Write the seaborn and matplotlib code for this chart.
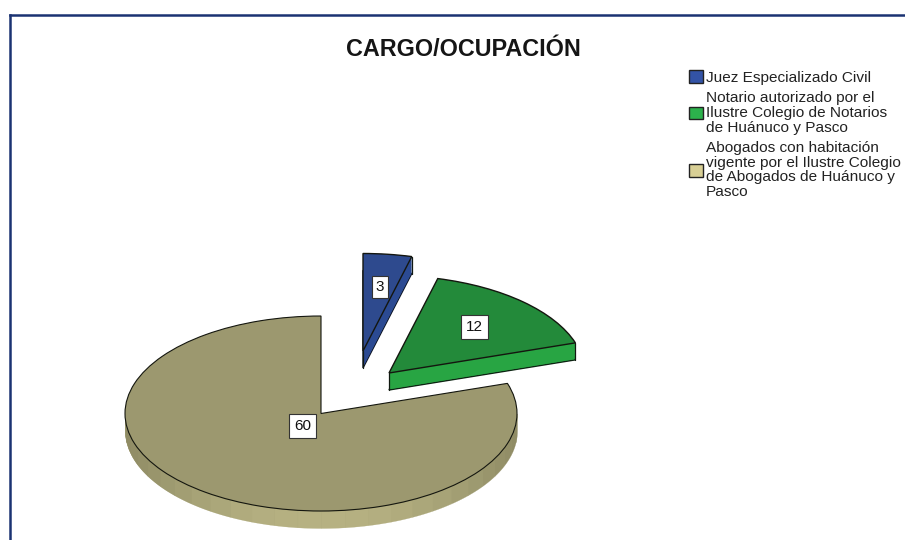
import numpy as np
import matplotlib
matplotlib.use('Agg')
import matplotlib.pyplot as plt
from matplotlib.patches import Patch
import seaborn as sns

cargos = ['Juez Especializado Civil',
          'Notario autorizado por el\nIlustre Colegio de Notarios\nde Huánuco y Pasco',
          'Abogados con habitación\nvigente por el Ilustre Colegio\nde Abogados de Huánuco y\nPasco']
frecuencias = [3, 12, 60]
titulo = 'CARGO/OCUPACIÓN'

top_colors = ['#2E4A8E', '#238A3A', '#9C986F']
side_colors = ['#2B4A92', '#28A543', '#A8A478']
legend_colors = ['#3353A6', '#2CB24C', '#D8CF95']
navy = '#1A3272'

sns.set_theme(style='white')
plt.rcParams['font.family'] = ['Liberation Sans', 'DejaVu Sans']

W, H = 905, 540
CX, CY, RX, RY = 321, 413.5, 196, 97.5   # pie centre and radii, pixels
DEPTH = 17 / RY
FX, FY = 9.5, 14.5                        # frame corner

def px(x, y):
    return (x - CX) / RX, (CY - y) / RY

fig = plt.figure(figsize=(W / 100, H / 100), dpi=100)
ax = fig.add_axes([FX / W, 0, (W - FX) / W, (H - FY) / H])

# how far each slice is pulled out, in pie radii
shifts = [(42 / RX, 62.5 / RY), (68 / RX, 40.5 / RY), (0, 0)]

def layer(dy, colors, edge=None, lw=0):
    wedges, _ = ax.pie(frecuencias, startangle=90, counterclock=False, colors=colors,
                       wedgeprops={'edgecolor': edge if edge else 'none', 'linewidth': lw})
    for w, (sx, sy) in zip(wedges, shifts):
        w.set_center((sx, sy - dy))
    return wedges

# body of the pie, stacked downwards, lowest outline first
bottom = layer(DEPTH, side_colors)
bottom[0].set_edgecolor('#101828')
bottom[0].set_linewidth(1.0)
bottom[1].set_edgecolor('#0c2412')
bottom[1].set_linewidth(1.0)
for dy in np.linspace(DEPTH, 0, 24)[1:-1]:
    layer(dy, side_colors)

# shaded facets on the rim of the big slice
edges = np.linspace(0, -180, 27)
for a, b in zip(edges[:-1], edges[1:]):
    t = np.radians(np.linspace(a, b, 6))
    k = abs(np.cos(np.radians((a + b) / 2)))
    col = sns.blend_palette(['#B6B182', '#8E8B64'], 100)[int(k ** 2 * 99)]
    ax.fill_between(np.cos(t), np.sin(t) - DEPTH, np.sin(t), color=col, lw=0.2, zorder=2)

# vertical corners of the two pulled out slices
ends = np.cumsum(frecuencias) / sum(frecuencias) * 360
for i in range(2):
    sx, sy = shifts[i]
    ang = np.radians(90 - ends[i])
    for x0, y0 in [(sx, sy), (sx + np.cos(ang), sy + np.sin(ang))]:
        ax.plot([x0, x0], [y0, y0 - DEPTH], color='#101810', lw=0.9, zorder=3)

top = layer(0, top_colors, '#14160f', 1.0)
for w in top:
    w.set_zorder(4)
top[2].set_linewidth(0.8)

# white value boxes
label_pos = [(380, 287), (474.5, 327), (302.5, 426)]
label_pad = [0.25, 0.3, 0.3]
for v, (x, y), p in zip(frecuencias, label_pos, label_pad):
    ax.text(*px(x, y), str(v), ha='center', va='center', fontsize=11, color='#111111', zorder=6,
            bbox=dict(boxstyle='square,pad=%s' % p, fc='white', ec='#333333', lw=0.8))

ax.set_aspect('auto')
ax.set_frame_on(True)
ax.set_xlim(px(FX, 0)[0], px(W, 0)[0])
ax.set_ylim(px(0, H)[1], px(0, FY)[1])
ax.set_xticks([])
ax.set_yticks([])
for side in ['right', 'bottom']:
    ax.spines[side].set_visible(False)
for side in ['left', 'top']:
    ax.spines[side].set_visible(True)
    ax.spines[side].set_color(navy)
    ax.spines[side].set_linewidth(1.8)

fig.text(463 / W, 1 - 49 / H, titulo, ha='center', va='center', fontsize=16.8,
         fontweight='bold', color='#151515')

handles = [Patch(facecolor=c, edgecolor='#222222', linewidth=1) for c in legend_colors]
fig.legend(handles, cargos, loc='upper left', bbox_to_anchor=(689 / W, 1 - 70 / H),
           frameon=False, fontsize=11.1, handlelength=0.9, handleheight=0.9, handletextpad=0.18,
           labelspacing=0.42, borderpad=0, borderaxespad=0, labelcolor='#222222')
for t in fig.legends[0].get_texts():
    t.set_linespacing(1.06)

fig.savefig('out.png', dpi=100)
